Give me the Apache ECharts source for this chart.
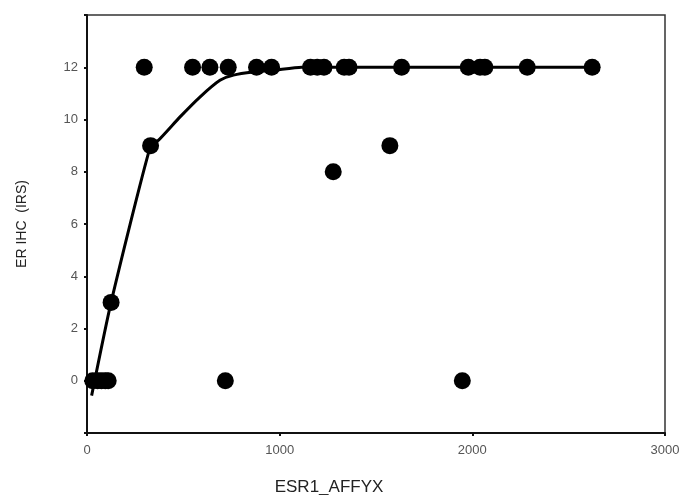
<!DOCTYPE html>
<html>
<head>
<meta charset="utf-8">
<script src="https://cdn.jsdelivr.net/npm/echarts@6/dist/echarts.min.js"></script>
<style>
  html, body { margin: 0; padding: 0; background: #fff; }
  #main { width: 680px; height: 495px; }
</style>
</head>
<body>
<div id="main"></div>
<script>
// observed cases: ESR1_AFFYX expression vs ER IHC score
let esrValues = [30, 55, 75, 95, 110, 125, 297, 330, 548, 638, 718, 733, 880, 958,
    1160, 1195, 1230, 1278, 1335, 1360, 1572, 1633, 1948, 1979, 2040, 2065, 2285, 2622];
let ihcScores = [0, 0, 0, 0, 0, 3, 12, 9, 12, 12, 0, 12, 12, 12,
    12, 12, 12, 8, 12, 12, 9, 12, 0, 12, 12, 12, 12, 12];

// fitted curve
let fitX = [24, 125, 330, 370, 483, 586, 690, 760, 863, 967, 1114, 1400, 2000, 2622];
let fitY = [-0.57, 3, 9, 9.2, 10.1, 10.86, 11.5, 11.7, 11.82, 11.88, 12, 12, 12, 12];

let xTicks = [0, 1000, 2000, 3000];
let yTicks = [0, 2, 4, 6, 8, 10, 12];

let myChart = echarts.init(document.getElementById('main'));

let points = esrValues.map(function (v, i) { return [v, ihcScores[i]]; });
let fit = fitX.map(function (v, i) { return [v, fitY[i]]; });

let options = {
    animation: false,
    grid: {
        left: 87,
        right: 15,
        top: 15,
        bottom: 62,
        outerBoundsMode: 'none',
        containLabel: false,
        show: true,
        borderColor: '#333',
        borderWidth: 1.5
    },
    xAxis: {
        type: 'value',
        min: 0,
        max: 3000,
        interval: 1000,
        name: 'ESR1_AFFYX',
        nameLocation: 'middle',
        nameGap: 46,
        nameTextStyle: {
            fontFamily: 'Liberation Sans',
            fontSize: 17,
            color: '#222',
            padding: [0, 94, 0, 0]
        },
        axisLine: { onZero: false, lineStyle: { color: '#111', width: 2 } },
        axisTick: { length: 3, lineStyle: { color: '#111', width: 2 } },
        axisLabel: {
            margin: 11,
            fontFamily: 'Liberation Sans',
            fontSize: 13,
            color: '#555',
            formatter: function (v) {
                return xTicks.indexOf(v) >= 0 ? String(v) : '';
            }
        },
        splitLine: { show: false }
    },
    yAxis: {
        type: 'value',
        min: -2,
        max: 14,
        interval: 2,
        name: 'ER IHC  (IRS)',
        nameLocation: 'middle',
        nameGap: 58,
        nameTextStyle: {
            fontFamily: 'Liberation Sans',
            fontSize: 14,
            color: '#222'
        },
        axisLine: { onZero: false, lineStyle: { color: '#111', width: 2 } },
        axisTick: { length: 3, lineStyle: { color: '#111', width: 2 } },
        axisLabel: {
            margin: 9,
            fontFamily: 'Liberation Sans',
            fontSize: 13,
            color: '#555',
            formatter: function (v) {
                return yTicks.indexOf(v) >= 0 ? String(v) : '';
            }
        },
        splitLine: { show: false }
    },
    series: [
        {
            type: 'line',
            data: fit,
            showSymbol: false,
            smooth: 0.2,
            lineStyle: { color: '#000', width: 3 },
            z: 2
        },
        {
            type: 'scatter',
            data: points,
            symbol: 'circle',
            symbolSize: 17,
            itemStyle: { color: '#000', opacity: 1 },
            z: 3
        }
    ]
};
myChart.setOption(options);
</script>
</body>
</html>
